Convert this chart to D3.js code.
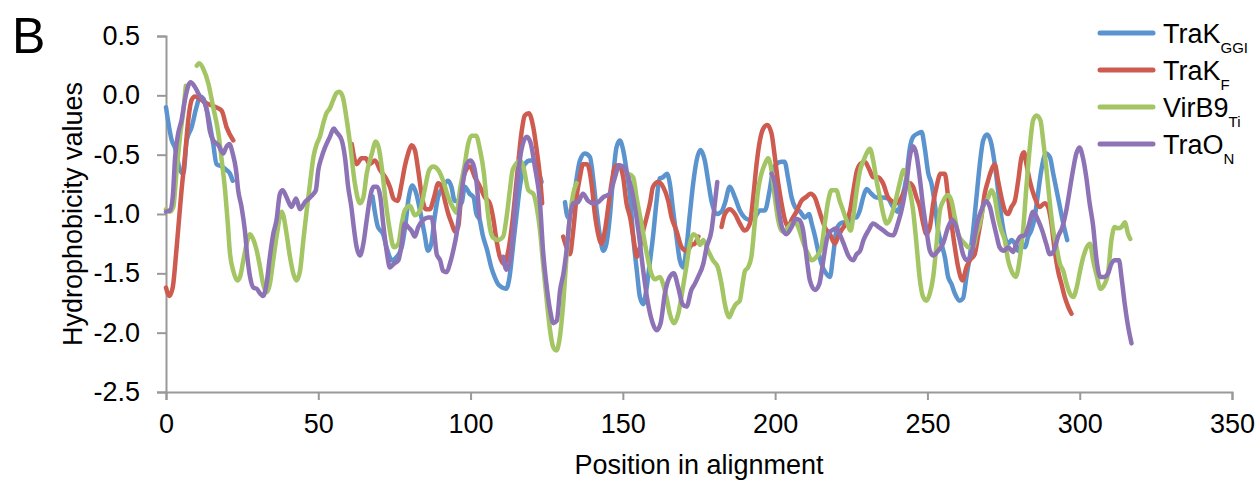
<!DOCTYPE html>
<html>
<head>
<meta charset="utf-8">
<script src="https://cdn.jsdelivr.net/npm/d3@7"></script>
<style>
  body { margin: 0; background: #fff; }
  text { font-family: "Liberation Sans", Arial, sans-serif; fill: #000; }
</style>
</head>
<body>
<svg id="chart" width="1260" height="481"></svg>
<script>
// tick values
const xTicks = [0, 50, 100, 150, 200, 250, 300, 350];
const yTicks = [0.5, 0, -0.5, -1, -1.5, -2, -2.5];

// [position, hydrophobicity], null = gap in the alignment
const trakGGI = [
  [0,-0.1],[1.9,-0.38],[2.95,-0.44],[4.6,-0.63],[5.7,-0.66],[6.8,-0.38],[8.4,-0.27],[10,-0.1],[11.2,-0.01],[12.3,-0.03],
  [13.9,-0.18],[15.5,-0.41],[16.6,-0.58],[18.3,-0.6],[19.9,-0.63],[21,-0.66],[21.9,-0.72],
  null,
  [67.8,-0.85],[69.6,-1.11],[71.3,-1.17],[72.4,-1.28],[74.2,-1.39],[75.8,-1.36],[77.4,-1.28],[78.5,-1.11],[79.7,-0.86],
  [80.9,-0.76],[82.2,-0.83],[83.4,-0.97],[84.9,-1.17],[86,-1.31],[87.1,-1.25],[88.2,-1.03],[89.3,-0.86],[91,-0.77],
  [92.6,-0.72],[93.7,-0.77],[94.8,-0.89],[95.9,-0.89],[97,-0.91],[98.1,-0.77],[99.7,-0.83],[101,-0.86],[101.9,-1.0],
  [103,-1.05],[104,-1.18],[105.4,-1.3],[106.8,-1.45],[107.9,-1.53],[109,-1.59],[110.4,-1.62],[111.7,-1.63],[112.8,-1.53],
  [113.9,-1.28],[115,-1.03],[116.2,-0.77],[117.8,-0.58],[119.5,-0.55],[121.1,-0.55],[122.2,-0.63],[123.3,-0.73],
  null,
  [131,-0.9],[132,-1.03],[133.2,-0.94],[134.2,-0.8],[135.9,-0.55],[137.5,-0.49],[139.2,-0.52],[140.2,-0.69],[141.4,-0.97],
  [142.5,-1.19],[143.6,-1.31],[144.6,-1.25],[145.7,-1.03],[146.8,-0.69],[147.9,-0.44],[149,-0.38],[150.1,-0.46],[151.2,-0.63],
  [152.4,-0.86],[153.4,-1.19],[154.6,-1.48],[155.6,-1.7],[156.7,-1.76],[157.7,-1.64],[158.8,-1.42],[159.9,-1.19],[161,-0.91],
  [162.1,-0.7],[163.2,-0.69],[164.5,-0.66],[165.4,-0.74],[166.5,-0.97],[167.6,-1.19],[168.7,-1.39],[169.8,-1.45],[170.9,-1.28],
  [172,-1.0],[173.1,-0.74],[174.2,-0.55],[175.5,-0.46],[176.9,-0.55],[178,-0.72],[179.1,-0.89],[180.8,-1.0],[182.4,-0.98],
  [183.5,-0.91],[185.1,-0.77],[186.8,-0.86],[188.4,-0.97],[190,-1.03],[191.7,-1.05],[193.3,-1.03],[195,-0.97],[196.6,-0.97],
  [198.2,-0.8],[199.3,-0.63],[200.4,-0.58],[202,-0.56],[203.1,-0.56],[204.2,-0.69],[205.4,-0.86],[206.5,-0.94],[208.2,-0.98],
  [209.8,-1.03],[211.1,-1.0],[212,-1.08],[213.1,-1.19],[214.1,-1.31],[215.2,-1.42],[216.7,-1.5],[218,-1.53],[219,-1.36],
  [220.1,-1.14],[221.4,-1.08],[222.9,-1.07],[224.5,-1.07],[225.6,-1.03],[226.7,-1.03],[227.8,-0.97],[228.9,-0.86],[230,-0.79],
  [231.6,-0.83],[233.2,-0.86],[235.4,-0.86],[237,-0.87],[238.7,-0.94],[240.3,-0.98],[241.4,-0.89],[243.1,-0.69],[244.2,-0.45],
  [245.3,-0.35],[247,-0.32],[248.1,-0.31],[249.1,-0.44],[250.3,-0.66],[251.3,-0.74],[252.4,-0.91],[253.5,-1.14],[254.6,-1.25],
  [255.7,-1.36],[256.8,-1.53],[257.9,-1.59],[259,-1.67],[260.6,-1.73],[261.7,-1.71],[262.8,-1.53],[263.9,-1.36],[265,-1.14],
  [266.1,-0.86],[267.2,-0.58],[268.3,-0.38],[269.6,-0.33],[271,-0.41],[272.1,-0.58],[273.2,-0.8],[274.3,-1.03],[275.4,-1.19],
  [276.5,-1.25],[277.6,-1.22],[278.7,-1.25],[279.8,-1.31],[280.9,-1.25],[282,-1.28],[283.1,-1.19],[284.1,-1.14],[285.2,-1.03],
  [286.3,-0.83],[287.4,-0.63],[288.9,-0.49],[290.2,-0.52],[291.3,-0.66],[292.4,-0.8],[293.5,-0.94],[294.6,-1.08],[295.9,-1.22]
];

const trakF = [
  [0,-1.62],[1.1,-1.69],[2.2,-1.62],[3.5,-1.28],[5.1,-0.8],[6.2,-0.52],[7.3,-0.21],[8.4,-0.04],[9.5,-0.01],[11.2,-0.03],
  [12.8,-0.06],[14.4,-0.08],[17.2,-0.11],[18.3,-0.13],[19.9,-0.27],[22.1,-0.38],
  null,
  [61,-0.41],[62.6,-0.58],[64.2,-0.53],[65.6,-0.53],[66.8,-0.58],[68.6,-0.55],[70.3,-0.63],[72,-0.69],[73.5,-0.77],
  [74.7,-0.87],[76,-0.89],[77.4,-0.74],[78.4,-0.6],[79.5,-0.49],[80.6,-0.42],[81.7,-0.46],[82.8,-0.63],[83.9,-0.83],
  [85.3,-0.96],[86.6,-0.96],[88,-0.86],[89.4,-0.74],[90.5,-0.77],[91.6,-0.89],[92.7,-1.0],[93.8,-1.08],[94.9,-1.15],
  [96,-1.1],[97.1,-0.77],[98.5,-0.63],[99.8,-0.6],[101.4,-0.69],[103.1,-0.77],[104.7,-0.86],[106.3,-0.91],[107.4,-1.03],
  [108.5,-1.22],[109.6,-1.36],[111,-1.42],[112.4,-1.31],[113.8,-1.05],[115.1,-0.72],[116.8,-0.3],[117.8,-0.17],[119.1,-0.15],
  [120.6,-0.27],[121.7,-0.46],[122.8,-0.69],[123.5,-0.91],
  null,
  [130.4,-1.19],[131.5,-1.28],[132.6,-1.34],[133.7,-1.14],[134.8,-0.86],[135.9,-0.69],[136.9,-0.58],[138.3,-0.58],[139.7,-0.74],
  [140.8,-1.0],[141.9,-1.17],[143,-1.25],[144.1,-1.14],[145.2,-0.94],[146.3,-0.74],[147.4,-0.6],[148.8,-0.59],[150.1,-0.69],
  [151.2,-0.91],[152.4,-1.03],[153.4,-1.19],[154.6,-1.36],[155.6,-1.28],[156.7,-1.14],[157.8,-1.03],[158.9,-0.91],[159.9,-0.77],
  [161.6,-0.73],[163.2,-0.77],[164.9,-0.89],[166,-1.03],[167.6,-1.14],[169.3,-1.28],[170.9,-1.31],[172.6,-1.26],[173.6,-1.25],
  [174.8,-1.19],
  null,
  [182.4,-1.11],[183.5,-1.0],[185.1,-0.96],[186.8,-1.0],[188.4,-1.08],[190,-1.14],[191.7,-1.08],[192.8,-0.86],[193.9,-0.58],
  [195,-0.38],[196.1,-0.28],[197.4,-0.25],[198.8,-0.32],[199.9,-0.52],[201,-0.74],[202.1,-0.91],[203.2,-1.05],[204.3,-1.11],
  [205.4,-1.05],[207,-0.98],[208.6,-0.89],[210,-0.86],[211.6,-0.83],[213,-0.86],[214.1,-0.94],[215.2,-1.03],[216.3,-1.11],
  [218,-1.17],[219.6,-1.25],[220.7,-1.19],[221.7,-1.14],[223.2,-1.08],[224.6,-0.97],[225.7,-0.8],[226.9,-0.63],[227.9,-0.58],
  [229.4,-0.56],[231,-0.63],[232.2,-0.69],[233.8,-0.69],[235.4,-0.74],[237.1,-0.86],[238.2,-0.89],[239.8,-0.91],[241.5,-0.86],
  [243.1,-0.77],[244.2,-0.74],[245.3,-0.77],[246.4,-0.86],[247.5,-0.94],[248.6,-1.08],[249.7,-1.17],[250.8,-1.11],[251.9,-0.91],
  [253,-0.77],[254.3,-0.66],[255.7,-0.66],[256.8,-0.86],[257.9,-1.08],[259,-1.28],[260.1,-1.45],[261.5,-1.56],[262.8,-1.45],
  [263.9,-1.39],[265.5,-1.34],[266.6,-1.19],[267.7,-1.03],[268.8,-0.83],[269.9,-0.72],[271,-0.63],[272.1,-0.58],[273.2,-0.72],
  [274.3,-0.86],[275.4,-0.97],[276.5,-1.0],[277.6,-0.94],[278.7,-0.89],[279.8,-0.72],[280.9,-0.52],[281.7,-0.48],[282.5,-0.58],
  [283.6,-0.72],[285.2,-0.86],[286.9,-0.94],[288.5,-0.91],[289.6,-0.94],[290.7,-1.08],[291.8,-1.31],[292.9,-1.48],[294,-1.59],
  [295.1,-1.7],[296.2,-1.78],[297.3,-1.84]
];

const virB9 = [
  [0,-0.96],[1.3,-0.98],[2.4,-0.94],[3.5,-0.63],[4.6,-0.35],[5.7,-0.13],[6.5,0.08],
  null,
  [10.1,0.25],[10.9,0.27],[12.3,0.22],[13.9,0.1],[15.5,-0.1],[17.2,-0.32],[18.3,-0.55],[19.4,-0.8],[20.2,-1.05],[21,-1.33],
  [22.1,-1.48],[23.4,-1.56],[24.3,-1.53],[25.4,-1.39],[26.5,-1.25],[27.6,-1.17],[28.6,-1.21],[29.8,-1.31],[30.9,-1.45],
  [31.9,-1.59],[33,-1.66],[34.1,-1.59],[35.2,-1.39],[36.3,-1.19],[38,-0.98],[38.5,-1.01],[39.6,-1.17],[40.7,-1.36],
  [41.8,-1.5],[42.9,-1.56],[44,-1.48],[45.1,-1.22],[46.2,-0.97],[47.3,-0.74],[48.4,-0.52],[49.5,-0.41],[50.5,-0.35],
  [51.6,-0.24],[52.7,-0.15],[53.8,-0.11],[54.9,-0.04],[56,0.02],[56.9,0.03],[58,-0.01],[59.3,-0.2],[60.4,-0.4],[62,-0.74],
  [63.7,-0.91],[64.8,-0.86],[65.9,-0.66],[67.5,-0.5],[68.9,-0.39],[70,-0.46],[71.1,-0.66],[72.2,-0.91],[73.5,-1.14],
  [74.8,-1.28],[76.3,-1.25],[77.4,-1.08],[78.4,-0.97],[80.1,-0.93],[81.7,-1.01],[83.4,-0.97],[84.9,-0.8],[86.4,-0.63],
  [87.7,-0.6],[89.4,-0.63],[91,-0.72],[92.7,-0.86],[94.3,-0.95],[95.4,-0.99],[96.5,-0.8],[98.1,-0.58],[99.2,-0.41],
  [100.3,-0.34],[101.8,-0.34],[103.1,-0.46],[104.4,-0.66],[105.3,-0.9],[106.3,-1.11],[107.4,-1.2],[109,-1.22],[110.7,-1.19],
  [111.8,-1.03],[112.9,-0.8],[113.8,-0.63],[114.9,-0.58],[116.2,-0.55],[117.3,-0.6],[119,-0.8],[120.6,-0.83],[121.7,-0.94],
  [122.8,-1.14],[123.8,-1.42],[124.9,-1.7],[126.1,-1.98],[127.1,-2.12],[128.2,-2.15],[129.3,-2.04],[130.4,-1.76],[131.5,-1.36],
  [132.6,-1.03],[133.7,-0.83],[134.8,-0.74],
  null,
  [151.7,-0.66],[153.4,-0.69],[154.5,-0.86],[156.1,-1.08],[157.7,-1.31],[159.3,-1.5],[160.5,-1.55],[162.2,-1.53],[163.2,-1.59],
  [164.3,-1.7],[165.4,-1.84],[166.8,-1.92],[168.2,-1.84],[169.6,-1.64],[171,-1.42],[172,-1.25],[173.1,-1.17],[174.2,-1.19],
  [175.3,-1.26],[176.4,-1.22],[178,-1.31],[179.6,-1.39],[181.2,-1.45],[182.4,-1.59],[183.5,-1.76],[184.9,-1.87],[186,-1.81],
  [187.1,-1.76],[188.4,-1.73],[189.3,-1.59],[190.1,-1.48],[191.1,-1.45],[192.2,-1.36],[193.3,-1.08],[194.4,-0.8],[195.5,-0.66],
  [196.6,-0.58],[197.7,-0.53],[198.8,-0.63],[199.9,-0.86],[201,-1.05],[202.1,-1.14],[203.1,-1.15],[204.3,-1.11],[205.4,-1.08],
  [206.5,-1.07],[207.6,-1.11],[208.6,-1.19],[209.8,-1.28],[210.9,-1.34],[212,-1.39],[213.6,-1.36],[215.2,-1.28],[216.3,-1.08],
  [217.4,-0.89],[218.5,-0.8],[220.1,-0.8],[221.2,-0.89],[222.3,-0.97],[223.4,-1.05],[224.8,-1.14],[225.6,-1.03],[226.8,-0.8],
  [227.9,-0.63],[229,-0.55],[230,-0.49],[231.1,-0.45],[232.2,-0.55],[233.3,-0.72],[234.4,-0.86],[235.5,-1.0],[236.6,-1.08],
  [237.6,-1.05],[238.7,-0.97],[239.8,-0.86],[240.9,-0.74],[242.2,-0.63],[243.6,-0.74],[244.2,-0.8],[245.3,-0.97],[246.4,-1.25],
  [247.5,-1.55],[248.6,-1.7],[249.7,-1.73],[250.8,-1.67],[251.9,-1.53],[253,-1.25],[254.1,-0.97],[255.2,-0.89],[256.8,-0.84],
  [257.9,-0.89],[259,-1.03],[260.1,-1.17],[261.2,-1.22],[262.3,-1.25],[263.4,-1.28],[265,-1.28],[266.1,-1.17],[267.2,-1.08],
  [268.3,-0.94],[270,-0.86],[271,-0.8],[272.1,-0.86],[273.2,-1.03],[274.3,-1.14],[275.4,-1.22],[276.5,-1.39],[277.6,-1.48],
  [279,-1.53],[280.4,-1.36],[281.4,-1.14],[282.5,-0.77],[283.6,-0.44],[284.7,-0.21],[285.8,-0.17],[287.1,-0.21],[288,-0.38],
  [289.1,-0.63],[290.2,-0.91],[291.3,-1.14],[292.4,-1.28],[293.5,-1.42],[294.6,-1.48],[295.7,-1.59],[296.8,-1.67],[297.9,-1.7],
  [299,-1.62],[300.1,-1.48],[301.2,-1.36],[302.3,-1.28],[303.4,-1.25],[304.4,-1.39],[305.6,-1.52],[306.8,-1.63],[308.2,-1.59],
  [309.3,-1.5],[310.4,-1.22],[311.5,-1.11],[312.6,-1.12],[313.7,-1.11],[314.8,-1.07],[315.9,-1.17],[316.6,-1.21]
];

const traON = [
  [0,-0.98],[1.3,-0.97],[2.2,-0.86],[3,-0.52],[4,-0.32],[5.1,-0.21],[6.2,-0.04],[7.3,0.08],[8.1,0.11],[9.5,0.07],
  [11.2,-0.01],[12.3,-0.04],[13.4,-0.13],[14.4,-0.3],[15.5,-0.38],[17.2,-0.42],[18.8,-0.49],[19.7,-0.44],[20.8,-0.41],
  [21.9,-0.49],[23,-0.63],[23.7,-0.8],[24.8,-0.94],[25.9,-1.14],[26.7,-1.36],[27.6,-1.53],[28.7,-1.62],[29.8,-1.63],
  [30.9,-1.67],[31.9,-1.69],[33,-1.59],[34.1,-1.36],[35.2,-1.17],[36.3,-1.05],[37.4,-0.83],[38.3,-0.8],[39.6,-0.86],
  [41.2,-0.94],[42.7,-0.87],[44,-0.96],[45.6,-0.9],[47.3,-0.86],[48.4,-0.83],[49.2,-0.8],[50,-0.63],[51.1,-0.52],
  [52.2,-0.44],[53.8,-0.35],[55.1,-0.28],[56,-0.31],[57.7,-0.38],[58.8,-0.53],[59.8,-0.77],[60.9,-0.95],[61.5,-1.08],
  [62.6,-1.28],[63.7,-1.35],[64.8,-1.25],[65.9,-1.05],[67,-0.86],[68.2,-0.77],[69.3,-0.77],[70.4,-0.86],[71.3,-1.08],
  [72.6,-1.34],[73.5,-1.45],[74.8,-1.42],[76.3,-1.39],[77.4,-1.25],[78.4,-1.08],[79.5,-1.11],[80.6,-1.14],[81.7,-1.19],
  [82.8,-1.11],[84.5,-1.05],[86.1,-1.03],[87.2,-1.03],[88,-1.14],[88.9,-1.34],[90,-1.39],[91,-1.48],[92.2,-1.49],
  [93.2,-1.42],[94.3,-1.31],[95.4,-1.17],[96.5,-0.94],[97.6,-0.72],[98.7,-0.58],[100,-0.55],[101.1,-0.6],[102,-0.74],
  [102.9,-1.03],
  null,
  [110.7,-1.36],[111.8,-1.47],[113,-1.39],[114,-1.14],[115.1,-0.8],[116.7,-0.46],[118.4,-0.35],[119.7,-0.4],[121.1,-0.6],
  [122.8,-0.91],[123.8,-1.31],[124.9,-1.59],[126.1,-1.81],[127.2,-1.92],[128.3,-1.9],[129.4,-1.64],[130.5,-1.5],[131.5,-1.31],
  [132.6,-1.03],[133.7,-0.91],[135.3,-0.9],[136.9,-0.83],[138.6,-0.89],[140.3,-0.91],[141.9,-0.9],[143.5,-0.86],[145.7,-0.83],
  [147.4,-0.69],[148.8,-0.59],[150.1,-0.6],[151.8,-0.69],[153.4,-0.86],[155.1,-1.14],[156.7,-1.48],[158.3,-1.76],[159.8,-1.92],
  [161.1,-1.98],[162.4,-1.92],[163.8,-1.67],[165.4,-1.53],[166.7,-1.5],[168.2,-1.62],[169.6,-1.76],[170.9,-1.78],[172.5,-1.64],
  [173.6,-1.59],[174.7,-1.53],[176.4,-1.42],[177.5,-1.28],[179.1,-1.14],[180.2,-0.91],[181,-0.73],
  null,
  [198.8,-0.66],[199.9,-0.74],[201,-0.94],[202.2,-1.11],[203.7,-1.17],[205.4,-1.11],[206.8,-1.04],[207.9,-1.05],[209.2,-1.14],
  [210.3,-1.36],[211.4,-1.56],[213.1,-1.64],[214.5,-1.59],[215.3,-1.48],[216.3,-1.31],[217.4,-1.17],[218.5,-1.14],[220.2,-1.12],
  [221.2,-1.17],[222.5,-1.25],[224,-1.35],[225.6,-1.39],[226.7,-1.34],[227.9,-1.31],[229,-1.22],[230.6,-1.14],[232.2,-1.08],
  [234,-1.11],[235.6,-1.14],[237.1,-1.17],[238.7,-1.18],[240.3,-1.08],[242,-0.91],[243.1,-0.74],[244.2,-0.52],[245.3,-0.43],
  [246.4,-0.5],[247.5,-0.7],[248.6,-0.94],[249.7,-1.14],[250.8,-1.31],[251.9,-1.35],[253.5,-1.31],[255.1,-1.25],[256.8,-1.11],
  [258.2,-1.05],[259.5,-1.11],[260.6,-1.22],[261.7,-1.34],[263,-1.39],[264.4,-1.34],[265.5,-1.19],[266.6,-1.05],[267.7,-0.97],
  [269.1,-0.89],[270.5,-0.94],[271.5,-1.05],[272.6,-1.17],[273.7,-1.28],[275.1,-1.31],[276.5,-1.28],[278.1,-1.32],[279.2,-1.25],
  [280.5,-1.19],[282,-1.18],[283.1,-1.11],[284.7,-0.98],[286.3,-1.05],[287.7,-1.14],[289,-1.25],[290.2,-1.34],[291.5,-1.31],
  [292.9,-1.19],[294.3,-1.11],[295.6,-0.97],[296.7,-0.8],[297.8,-0.63],[298.9,-0.49],[299.9,-0.44],[301,-0.52],[302.1,-0.68],
  [303.2,-0.9],[304.4,-1.1],[305.5,-1.38],[306.7,-1.53],[308,-1.53],[309.3,-1.5],[310.4,-1.42],[311.5,-1.39],[312.9,-1.39],
  [313.7,-1.53],[314.8,-1.76],[315.9,-1.95],[317,-2.09]
];

const seriesNames = ["TraK", "TraK", "VirB9", "TraO"];
const seriesSubs = ["GGI", "F", "Ti", "N"];
const seriesColors = ["#5b93ce", "#cd5b4f", "#a3c564", "#8d73b5"];
const seriesData = [trakGGI, trakF, virB9, traON];

const svg = d3.select("#chart");

// scales
const x = d3.scaleLinear().domain([0, 350]).range([166, 1232]);
const y = d3.scaleLinear().domain([-2.5, 0.5]).range([392, 36]);

// axes
const yAxis = svg.append("g")
  .attr("transform", "translate(166,0)")
  .call(d3.axisLeft(y).tickValues(yTicks).tickSize(9).tickPadding(17).tickFormat(d => d.toFixed(1)));

const xAxis = svg.append("g")
  .attr("transform", "translate(0,392)")
  .call(d3.axisBottom(x).tickValues(xTicks).tickSize(8).tickPadding(14));

[xAxis, yAxis].forEach(ax => {
  ax.select(".domain").attr("stroke", "#999").attr("stroke-width", 2);
  ax.selectAll(".tick line").attr("stroke", "#999").attr("stroke-width", 2);
  ax.selectAll(".tick text").style("font-size", "27px").attr("fill", "#000");
});
xAxis.selectAll(".tick text").attr("dy", "0.71em");

// lines
const line = d3.line()
  .defined(d => d !== null)
  .x(d => x(d[0]))
  .y(d => y(d[1]))
  .curve(d3.curveMonotoneX);

svg.append("g").selectAll("path")
  .data(seriesData)
  .enter()
  .append("path")
  .attr("d", line)
  .attr("fill", "none")
  .attr("stroke", (d, i) => seriesColors[i])
  .attr("stroke-width", 4.5)
  .attr("stroke-linejoin", "round")
  .attr("stroke-linecap", "round");

// axis titles
svg.append("text")
  .attr("x", (x(0) + x(350)) / 2)
  .attr("y", 474)
  .attr("text-anchor", "middle")
  .style("font-size", "27px")
  .text("Position in alignment");

svg.append("text")
  .attr("transform", "translate(82," + ((y(0.5) + y(-2.5)) / 2) + ") rotate(-90)")
  .attr("text-anchor", "middle")
  .style("font-size", "27px")
  .text("Hydrophobicity values");

// panel letter
svg.append("text")
  .attr("x", 12)
  .attr("y", 53)
  .style("font-size", "50px")
  .text("B");

// legend
const legend = svg.append("g").selectAll("g")
  .data(seriesNames)
  .enter()
  .append("g")
  .attr("transform", (d, i) => "translate(1100," + (33 + i * 37) + ")");

legend.append("line")
  .attr("x1", 0).attr("x2", 53)
  .attr("stroke", (d, i) => seriesColors[i])
  .attr("stroke-width", 5)
  .attr("stroke-linecap", "round");

const label = legend.append("text")
  .attr("x", 63)
  .attr("y", 10)
  .style("font-size", "27px");
label.append("tspan").text(d => d);
label.append("tspan")
  .attr("dy", 10)
  .style("font-size", "15px")
  .text((d, i) => seriesSubs[i]);
</script>
</body>
</html>
